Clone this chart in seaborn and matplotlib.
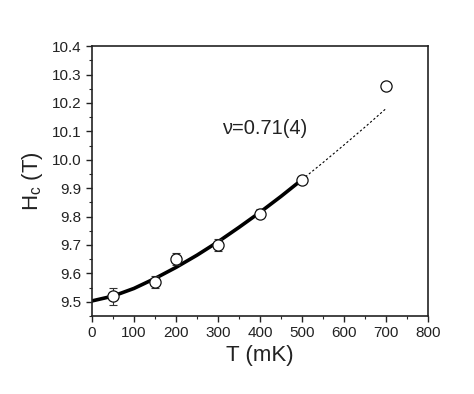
import numpy as np
import pandas as pd
import matplotlib
matplotlib.use('Agg')
import matplotlib.pyplot as plt
import seaborn as sns
from matplotlib.ticker import MultipleLocator

# measured points
temp_mk = [50, 150, 200, 300, 400, 500, 700]
hc_tesla = [9.52, 9.57, 9.65, 9.70, 9.81, 9.93, 10.26]
hc_err = [0.03, 0.02, 0.02, 0.02, 0.015, 0.005, 0.0]

# fit curve (solid part, then dotted extension)
fit_t = [0, 50, 100, 150, 200, 250, 300, 350, 400, 450, 500]
fit_h = [9.503, 9.520, 9.547, 9.582, 9.621, 9.664, 9.711, 9.762, 9.815, 9.871, 9.930]
ext_t = [500, 550, 600, 650, 700]
ext_h = [9.930, 9.990, 10.052, 10.115, 10.180]

sns.set_style('ticks')
plt.rcParams['font.family'] = ['Liberation Sans', 'DejaVu Sans']
plt.rcParams['mathtext.fontset'] = 'custom'
plt.rcParams['mathtext.rm'] = 'Liberation Sans'

fig = plt.figure(figsize=(4.74, 3.94), dpi=100)
ax = fig.add_axes([0.194, 0.198, 0.709, 0.685])

pts = pd.DataFrame({'T': temp_mk, 'H': hc_tesla})
fit = pd.DataFrame({'T': fit_t, 'H': fit_h})
ext = pd.DataFrame({'T': ext_t, 'H': ext_h})

sns.lineplot(data=fit, x='T', y='H', ax=ax, color='black', linewidth=2.6)
sns.lineplot(data=ext, x='T', y='H', ax=ax, color='black', linewidth=0.8, linestyle=(0, (2, 2)))
ax.errorbar(temp_mk, hc_tesla, yerr=hc_err, fmt='none', ecolor='#333333',
            elinewidth=0.8, capsize=3, capthick=0.8)
sns.scatterplot(data=pts, x='T', y='H', ax=ax, marker='o', s=65,
                facecolor='white', edgecolor='#111111', linewidth=0.9, zorder=5)

ax.set_xlim(0, 800)
ax.set_ylim(9.45, 10.4)
ax.xaxis.set_major_locator(MultipleLocator(100))
ax.xaxis.set_minor_locator(MultipleLocator(50))
ax.yaxis.set_major_locator(MultipleLocator(0.1))
ax.yaxis.set_minor_locator(MultipleLocator(0.05))
ax.tick_params(which='major', length=4, width=1, labelsize=11, direction='out',
               colors='#222222')
ax.tick_params(which='minor', length=2.5, width=0.8, direction='out')
for s in ax.spines.values():
    s.set_linewidth(1.2)
    s.set_color('#222222')

ax.set_xlabel('T (mK)', fontsize=16, labelpad=3, color='#222222')
ax.set_ylabel(r'H$_\mathregular{c}$ (T)', fontsize=16, labelpad=5, color='#222222')
ax.text(410, 10.11, 'ν=0.71(4)', fontsize=14.5, ha='center', va='center', color='#222222')

fig.savefig('out.png', dpi=100)
